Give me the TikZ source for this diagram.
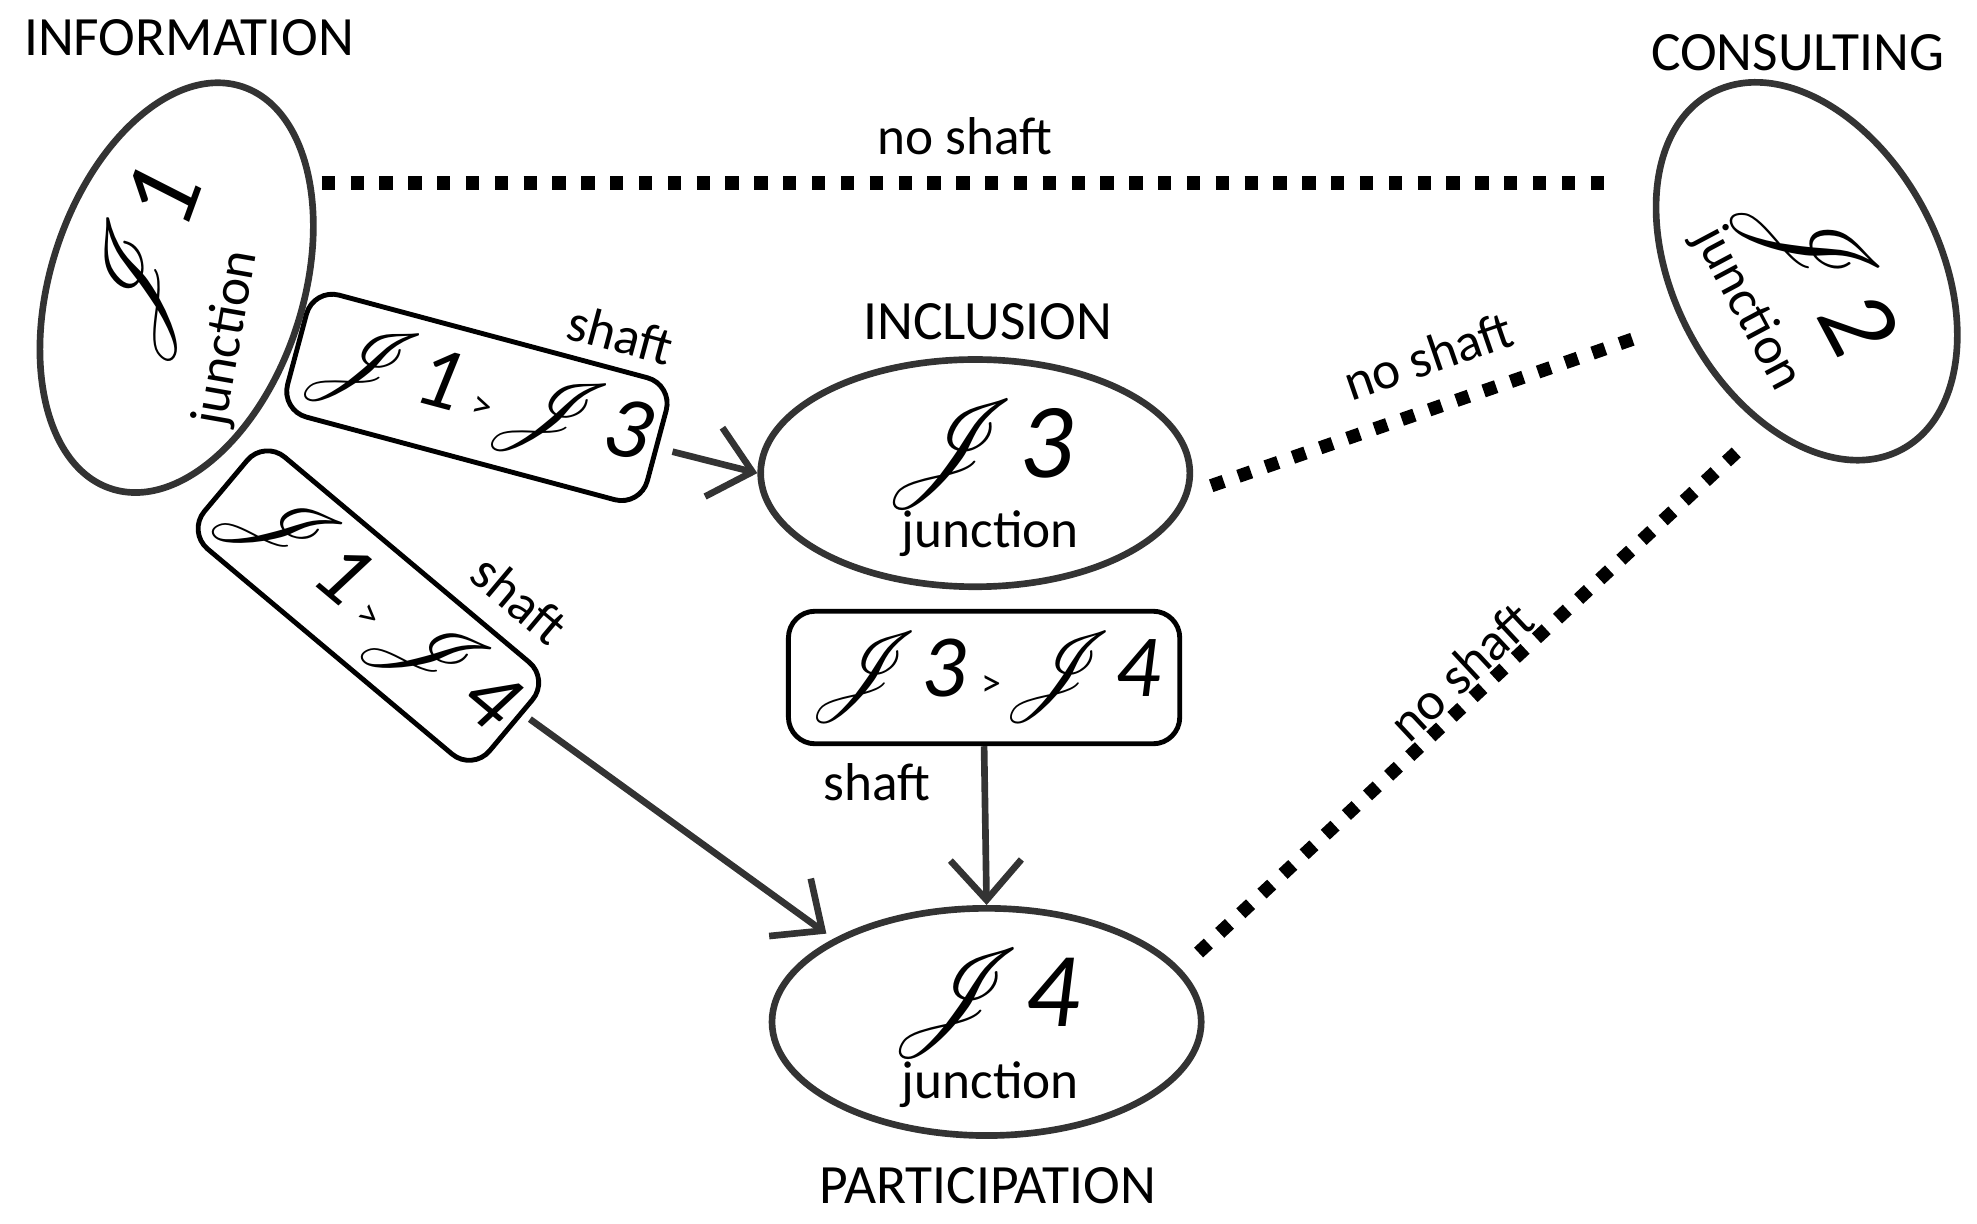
\documentclass[tikz,border=0pt]{standalone}
\usepackage{fontspec}
\usepackage{mathrsfs}
\setmainfont{Carlito}
\usetikzlibrary{arrows.meta,shapes.geometric}
\begin{document}
\begin{tikzpicture}[x=0.01cm,y=-0.01cm,
  ell/.style={draw=black!80,line width=1.5pt,ellipse},
  box/.style={draw=black,line width=1.1pt,rounded corners=6pt,minimum width=2.95cm,minimum height=1cm,inner sep=0pt},
  arr/.style={draw=black!80,line width=1.5pt,-{Straight Barb[length=9pt,width=16pt,line width=1.5pt]}},
  dot/.style={line width=3pt,dash pattern=on 3pt off 3.5pt},
  lbl/.style={font=\fontsize{12}{14}\selectfont},
  ttl/.style={font=\fontsize{12.5}{14}\selectfont},
  jj/.style={font=\fontsize{24}{26}\selectfont}]
\useasboundingbox (0,0) rectangle (1567,970);
% ellipses
\node[ell,minimum width=3.35cm,minimum height=2.0cm,rotate=72] (j1) at (140,228) {};
\node[ell,minimum width=3.2cm,minimum height=2.1cm,rotate=-62] (j2) at (1432,215) {};
\node[ell,minimum width=3.4cm,minimum height=1.8cm] (j3) at (773,375) {};
\node[ell,minimum width=3.4cm,minimum height=1.8cm] (j4) at (782,810) {};
% ellipse texts
\node[jj,rotate=70] (t1) at (118,210) {$\mathscr{J}$\textit{1}};
\node[lbl,rotate=80] (u1) at (180,268) {junction};
\node[jj,rotate=-62] (t2) at (1440,212) {$\mathscr{J}$\textit{2}};
\node[lbl,rotate=-62] (u2) at (1385,245) {junction};
\node[jj] (t3) at (775,360) {$\mathscr{J}$\textit{3}};
\node[lbl] (u3) at (785,423) {junction};
\node[jj] (t4) at (780,795) {$\mathscr{J}$\textit{4}};
\node[lbl] (u4) at (785,860) {junction};
% captions
\node[ttl] (c1) at (150,30) {INFORMATION};
\node[ttl] (c2) at (1425,42) {CONSULTING};
\node[ttl] (c3) at (783,255) {INCLUSION};
\node[ttl] (c4) at (783,940) {PARTICIPATION};
% boxes
\node[box,rotate=-15,font=\fontsize{20}{22}\selectfont] (b13) at (378,315) {$\mathscr{J}$\textit{1}\,{\small >}$\mathscr{J}$\textit{3}};
\node[box,rotate=-40,minimum height=0.95cm,font=\fontsize{20}{22}\selectfont] (b14) at (292,480) {$\mathscr{J}$\textit{1}\,{\small >}$\mathscr{J}$\textit{4}};
\node[box,minimum width=3.1cm,minimum height=1.05cm,font=\fontsize{20}{22}\selectfont] (b34) at (780,537) {$\mathscr{J}$\textit{3}\,{\small >}$\mathscr{J}$\textit{4}};
% arrows
\coordinate (a1) at (533,358);
\draw[arr] (a1) -- (j3.west);
\coordinate (s2) at (420,570);
\coordinate (e2) at (655,740);
\draw[arr] (s2) -- (e2);
\draw[arr] (b34.south) -- (j4.north);
\node[lbl,rotate=-15] (l1) at (492,265) {shaft};
\node[lbl,rotate=-40] (l2) at (412,475) {shaft};
\node[lbl] (l3) at (695,620) {shaft};
% dotted
\coordinate (d1a) at (255,145); \coordinate (d1b) at (1275,145);
\coordinate (d2a) at (960,385); \coordinate (d2b) at (1305,265);
\coordinate (d3a) at (950,755); \coordinate (d3b) at (1380,355);
\draw[dot] (d1a) -- (d1b);
\draw[dot] (d2a) -- (d2b);
\draw[dot] (d3a) -- (d3b);
\node[lbl] (n1) at (765,108) {no shaft};
\node[lbl,rotate=19] (n2) at (1132,282) {no shaft};
\node[lbl,rotate=43] (n3) at (1158,532) {no shaft};
\end{tikzpicture}
\end{document}
